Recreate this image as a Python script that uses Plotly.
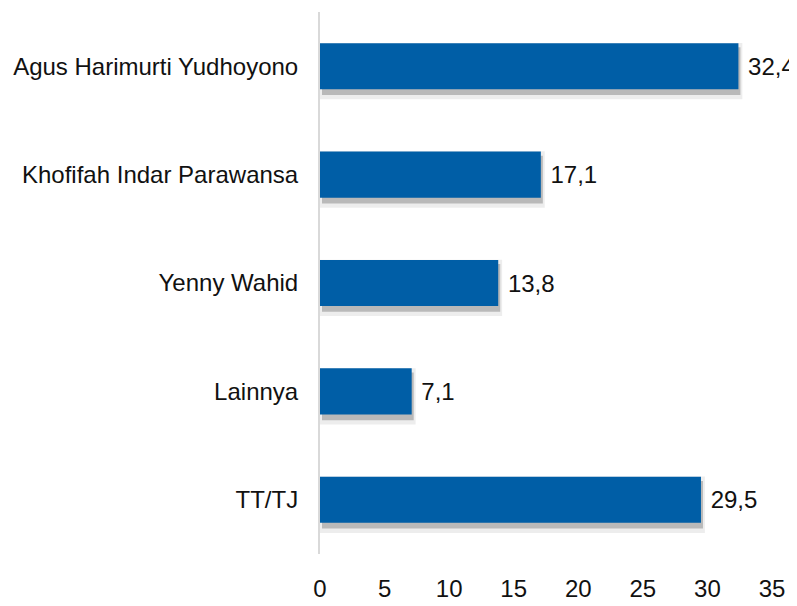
import plotly.graph_objects as go

categories = ["Agus Harimurti Yudhoyono", "Khofifah Indar Parawansa", "Yenny Wahid", "Lainnya", "TT/TJ"]
values = [32.4, 17.1, 13.8, 7.1, 29.5]
x_ticks = [0, 5, 10, 15, 20, 25, 30, 35]

pos = list(range(len(categories)))
labels = ["\u00a0" + f"{v:.1f}".replace(".", ",") for v in values]

# page body has an 8px margin, so the figure is 8px smaller than the window
W, H = 789, 598
ml, mr, mt, mb = 312, 25, 4, 44
pw = W - ml - mr
ph = H - mt - mb
x_max = 35
px_per_x = pw / x_max
px_per_cat = ph / len(categories)

# shadow offsets in pixels -> axis units
dx = 2 / px_per_x
dy = 5 / px_per_cat

FONT = "Liberation Sans, Arial, sans-serif"

fig = go.Figure()

# blurred shadow (outer, light)
fig.add_trace(go.Bar(
    y=pos, x=[v + 0.35 for v in values], base=-0.2, orientation="h",
    width=0.52, marker=dict(color="rgba(0,0,0,0.07)", line=dict(width=0)),
    xaxis="x", yaxis="y", hoverinfo="skip", showlegend=False,
))
# shadow (inner, darker)
fig.add_trace(go.Bar(
    y=pos, x=values, orientation="h",
    width=0.44, marker=dict(color="rgba(0,0,0,0.22)", line=dict(width=0)),
    xaxis="x", yaxis="y", hoverinfo="skip", showlegend=False,
))
# main bars
fig.add_trace(go.Bar(
    y=pos, x=values, orientation="h",
    width=0.425, marker=dict(color="#005EA6", line=dict(width=0)),
    text=labels, textposition="outside", cliponaxis=False,
    textfont=dict(size=24, color="#111111", family=FONT),
    xaxis="x2", yaxis="y2", showlegend=False,
))

fig.update_layout(
    width=W, height=H,
    margin=dict(l=ml, r=mr, t=mt, b=mb, pad=0),
    paper_bgcolor="white", plot_bgcolor="white",
    barmode="overlay",
    font=dict(family=FONT, size=24, color="#111111"),
    xaxis=dict(range=[-dx, x_max - dx], visible=False, fixedrange=True),
    yaxis=dict(range=[len(categories) - 0.5 - dy, -0.5 - dy], visible=False, fixedrange=True),
    xaxis2=dict(
        overlaying="x", range=[0, x_max], tickvals=x_ticks, ticktext=[str(t) for t in x_ticks],
        showgrid=False, zeroline=False, showline=False, ticks="",
        ticklabelstandoff=18, tickfont=dict(size=24),
    ),
    yaxis2=dict(
        overlaying="y", range=[len(categories) - 0.5, -0.5], tickvals=pos, ticktext=categories,
        showgrid=False, zeroline=False, showline=True, linecolor="#D9D9D9", linewidth=2,
        ticks="", ticklabelstandoff=15, tickfont=dict(size=24),
    ),
)

fig.write_html("out.html")
